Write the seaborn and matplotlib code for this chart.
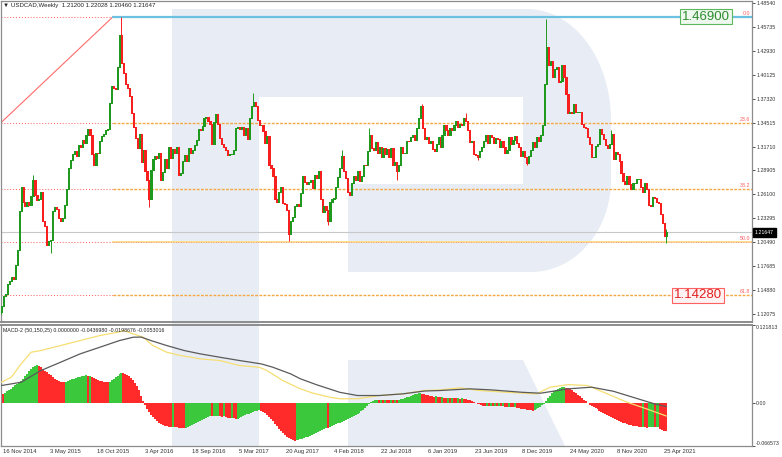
import numpy as np
import matplotlib
matplotlib.use("Agg")
import matplotlib.pyplot as plt
from matplotlib.patches import Polygon, Rectangle
import seaborn as sns

# USDCAD weekly closes, 16 Nov 2014 .. 9 May 2021
first_open = 1.1230
closes = [
    1.1310, 1.1420, 1.1440, 1.1560, 1.1600, 1.1640, 1.1620, 1.1780, 1.1960, 1.2420,
    1.2700, 1.2520, 1.2480, 1.2520, 1.2490, 1.2590, 1.2780, 1.2600, 1.2540, 1.2560,
    1.2640, 1.2300, 1.2240, 1.2020, 1.2060, 1.2080, 1.2420, 1.2460, 1.2440, 1.2330,
    1.2300, 1.2340, 1.2490, 1.2670, 1.2920, 1.3010, 1.3080, 1.3120, 1.3060, 1.3190,
    1.3170, 1.3250, 1.3210, 1.3300, 1.3380, 1.3310, 1.3080, 1.2960, 1.3100, 1.3090,
    1.3230, 1.3290, 1.3320, 1.3360, 1.3380, 1.3680, 1.3880, 1.3860, 1.3840, 1.4100,
    1.4480, 1.4150, 1.4030, 1.3900, 1.3850, 1.3760, 1.3560, 1.3400, 1.3270, 1.3150,
    1.3320, 1.2990, 1.3130, 1.2890, 1.2780, 1.2560, 1.2900, 1.3020, 1.3060, 1.3040,
    1.3100, 1.2780, 1.2870, 1.3030, 1.2920, 1.3170, 1.3040, 1.3140, 1.3100, 1.3160,
    1.2840, 1.2860, 1.3000, 1.3070, 1.3000, 1.3150, 1.3100, 1.3130, 1.3190, 1.3250,
    1.3380, 1.3370, 1.3410, 1.3500, 1.3520, 1.3470, 1.3440, 1.3200, 1.3460, 1.3550,
    1.3440, 1.3270, 1.3200, 1.3160, 1.3130, 1.3070, 1.3080, 1.3080, 1.3130, 1.3390,
    1.3400, 1.3380, 1.3400, 1.3300, 1.3390, 1.3260, 1.3500, 1.3640, 1.3690, 1.3650,
    1.3480, 1.3420, 1.3420, 1.3350, 1.3210, 1.3290, 1.2960, 1.2920, 1.2820, 1.2560,
    1.2520, 1.2640, 1.2700, 1.2510, 1.2500, 1.2430, 1.2150, 1.2300, 1.2350, 1.2480,
    1.2500, 1.2480, 1.2630, 1.2830, 1.2750, 1.2730, 1.2760, 1.2780, 1.2690, 1.2840,
    1.2800, 1.2890, 1.2560, 1.2410, 1.2470, 1.2430, 1.2300, 1.2520, 1.2560, 1.2570,
    1.2700, 1.2810, 1.2920, 1.3060, 1.2890, 1.2800, 1.2640, 1.2600, 1.2740, 1.2830,
    1.2780, 1.2880, 1.2770, 1.2820, 1.2960, 1.2950, 1.3120, 1.3310, 1.3150, 1.3130,
    1.3220, 1.3090, 1.3160, 1.3050, 1.3150, 1.3080, 1.3140, 1.3050, 1.3150, 1.2950,
    1.2990, 1.2880, 1.2950, 1.3160, 1.3100, 1.3100, 1.3240, 1.3230, 1.3280, 1.3300,
    1.3250, 1.3390, 1.3500, 1.3640, 1.3390, 1.3260, 1.3280, 1.3210, 1.3230, 1.3140,
    1.3120, 1.3200, 1.3280, 1.3170, 1.3310, 1.3420, 1.3370, 1.3300, 1.3390, 1.3370,
    1.3420, 1.3470, 1.3400, 1.3440, 1.3420, 1.3500, 1.3470, 1.3360, 1.3220, 1.3230,
    1.3080, 1.3070, 1.3050, 1.3120, 1.3160, 1.3230, 1.3300, 1.3210, 1.3300, 1.3280,
    1.3210, 1.3270, 1.3260, 1.3160, 1.3240, 1.3160, 1.3100, 1.3130, 1.3280, 1.3200,
    1.3250, 1.3290, 1.3210, 1.3160, 1.3060, 1.3120, 1.3050, 1.2980, 1.3060, 1.3130,
    1.3220, 1.3170, 1.3280, 1.3240, 1.3310, 1.3420, 1.3900, 1.4330, 1.4120, 1.4170,
    1.3980, 1.4080, 1.4100, 1.3930, 1.3940, 1.4130, 1.3980, 1.3790, 1.3560, 1.3580,
    1.3560, 1.3670, 1.3580, 1.3580, 1.3580, 1.3430, 1.3400, 1.3390, 1.3280, 1.3200,
    1.3050, 1.3050, 1.3180, 1.3200, 1.3380, 1.3320, 1.3260, 1.3190, 1.3150, 1.3200,
    1.3320, 1.3030, 1.3110, 1.3080, 1.3000, 1.2860, 1.2770, 1.2730, 1.2830, 1.2730,
    1.2670, 1.2740, 1.2740, 1.2790, 1.2790, 1.2700, 1.2640, 1.2740, 1.2670, 1.2490,
    1.2480, 1.2580, 1.2570, 1.2520, 1.2510, 1.2380, 1.2280, 1.2120, 1.21647,
]

# wicks that stand out (week index, price)
wick_highs = [(16, 1.2835), (61, 1.4690), (128, 1.3793), (173, 1.3125), (187, 1.3386),
              (214, 1.3665), (236, 1.3565), (277, 1.4667), (310, 1.3370), (338, 1.22028)]
wick_lows = [(0, 1.1210), (25, 1.1920), (75, 1.2460), (146, 1.2062), (166, 1.2250),
             (201, 1.2780), (242, 1.3015), (267, 1.2951), (338, 1.20460)]

# MACD-2 (50,150,25) histogram, one value per week
macd_hist = [
    0.0150, 0.0146, 0.0165, 0.0185, 0.0205, 0.0228, 0.0252, 0.0278, 0.0300, 0.0320,
    0.0350, 0.0385, 0.0420, 0.0455, 0.0500, 0.0535, 0.0565, 0.0580, 0.0588, 0.0580,
    0.0560, 0.0530, 0.0505, 0.0480, 0.0455, 0.0432, 0.0410, 0.0385, 0.0362, 0.0348,
    0.0338, 0.0330, 0.0326, 0.0330, 0.0342, 0.0356, 0.0370, 0.0385, 0.0398, 0.0408,
    0.0416, 0.0422, 0.0428, 0.0432, 0.0420, 0.0425, 0.0410, 0.0395, 0.0380, 0.0365,
    0.0352, 0.0342, 0.0336, 0.0332, 0.0330, 0.0338, 0.0355, 0.0378, 0.0405, 0.0430,
    0.0455, 0.0468, 0.0465, 0.0458, 0.0445, 0.0425, 0.0400, 0.0365, 0.0320, 0.0270,
    0.0200, 0.0120, 0.0040, -0.0030, -0.0085, -0.0135, -0.0180, -0.0215, -0.0245, -0.0275,
    -0.0300, -0.0320, -0.0338, -0.0350, -0.0360, -0.0366, -0.0370, -0.0368, -0.0372, -0.0376,
    -0.0380, -0.0382, -0.0383, -0.0384, -0.0378, -0.0365, -0.0350, -0.0335, -0.0320, -0.0305,
    -0.0290, -0.0275, -0.0260, -0.0245, -0.0230, -0.0215, -0.0200, -0.0205, -0.0198, -0.0194,
    -0.0192, -0.0200, -0.0210, -0.0205, -0.0215, -0.0225, -0.0232, -0.0228, -0.0236, -0.0242,
    -0.0238, -0.0228, -0.0215, -0.0200, -0.0188, -0.0175, -0.0162, -0.0148, -0.0134, -0.0122,
    -0.0115, -0.0112, -0.0120, -0.0135, -0.0155, -0.0180, -0.0210, -0.0245, -0.0280, -0.0320,
    -0.0360, -0.0395, -0.0430, -0.0465, -0.0495, -0.0522, -0.0545, -0.0562, -0.0575, -0.0582,
    -0.0576, -0.0570, -0.0562, -0.0553, -0.0543, -0.0532, -0.0520, -0.0507, -0.0493, -0.0478,
    -0.0462, -0.0446, -0.0430, -0.0415, -0.0400, -0.0385, -0.0390, -0.0375, -0.0360, -0.0345,
    -0.0330, -0.0315, -0.0300, -0.0285, -0.0270, -0.0255, -0.0240, -0.0228, -0.0215, -0.0200,
    -0.0185, -0.0170, -0.0150, -0.0125, -0.0098, -0.0068, -0.0036, -0.0005, 0.0025, 0.0040,
    0.0045, 0.0048, 0.0046, 0.0050, 0.0047, 0.0052, 0.0049, 0.0046, 0.0050, 0.0048,
    0.0052, 0.0050, 0.0055, 0.0060, 0.0068, 0.0078, 0.0090, 0.0102, 0.0115, 0.0127,
    0.0137, 0.0145, 0.0152, 0.0156, 0.0150, 0.0145, 0.0135, 0.0126, 0.0118, 0.0110,
    0.0102, 0.0105, 0.0096, 0.0090, 0.0093, 0.0087, 0.0082, 0.0085, 0.0080, 0.0083,
    0.0078, 0.0074, 0.0077, 0.0072, 0.0075, 0.0070, 0.0064, 0.0056, 0.0046, 0.0034,
    0.0020, 0.0006, -0.0008, -0.0018, -0.0028, -0.0036, -0.0040, -0.0038, -0.0042, -0.0039,
    -0.0045, -0.0042, -0.0048, -0.0045, -0.0050, -0.0047, -0.0053, -0.0058, -0.0055, -0.0061,
    -0.0066, -0.0063, -0.0070, -0.0076, -0.0082, -0.0088, -0.0095, -0.0102, -0.0108, -0.0112,
    -0.0114, -0.0105, -0.0090, -0.0072, -0.0052, -0.0030, -0.0008, 0.0030, 0.0080, 0.0120,
    0.0155, 0.0185, 0.0210, 0.0228, 0.0240, 0.0248, 0.0252, 0.0245, 0.0235, 0.0220,
    0.0200, 0.0178, 0.0155, 0.0130, 0.0105, 0.0080, 0.0055, 0.0032, 0.0008, -0.0025,
    -0.0045, -0.0062, -0.0078, -0.0092, -0.0115, -0.0135, -0.0155, -0.0172, -0.0190, -0.0205,
    -0.0220, -0.0235, -0.0250, -0.0265, -0.0280, -0.0295, -0.0305, -0.0315, -0.0324, -0.0332,
    -0.0340, -0.0347, -0.0353, -0.0359, -0.0364, -0.0369, -0.0366, -0.0372, -0.0380, -0.0377,
    -0.0374, -0.0371, -0.0376, -0.0372, -0.0369, -0.0405, -0.0418, -0.0428, -0.0437,
]

# MACD lines, read at a few weeks each
main_idx = [0, 5, 10, 15, 20, 30, 40, 50, 59, 62, 67, 72, 77, 84, 91, 101, 111, 121, 131, 135,
            143, 152, 158, 167, 172, 181, 192, 204, 215, 223, 233, 243, 257, 272, 279, 288,
            298, 308, 318, 328, 338]
main_val = [0.0327, 0.0405, 0.0613, 0.0794, 0.0820, 0.0898, 0.0976, 0.1054, 0.1105, 0.1132,
            0.1080, 0.1028, 0.0898, 0.0794, 0.0743, 0.0691, 0.0665, 0.0587, 0.0560, 0.0509,
            0.0353, 0.0224, 0.0160, 0.0093, 0.0070, 0.0070, 0.0120, 0.0146, 0.0198, 0.0208,
            0.0240, 0.0198, 0.0170, 0.0146, 0.0250, 0.0290, 0.0276, 0.0146, 0.0016, -0.0088,
            -0.0199]
signal_idx = [0, 10, 20, 30, 40, 50, 60, 67, 71, 76, 84, 93, 101, 111, 121, 132, 138, 147,
              152, 160, 172, 181, 192, 204, 215, 223, 238, 249, 265, 274, 288, 300, 311, 321,
              332, 338]
signal_val = [0.0276, 0.0327, 0.0509, 0.0638, 0.0769, 0.0872, 0.0976, 0.1028, 0.1030, 0.0976,
              0.0898, 0.0820, 0.0769, 0.0716, 0.0665, 0.0613, 0.0560, 0.0457, 0.0380, 0.0290,
              0.0170, 0.0120, 0.0120, 0.0146, 0.0190, 0.0198, 0.0224, 0.0208, 0.0170, 0.0156,
              0.0224, 0.0250, 0.0187, 0.0093, -0.0010, -0.0053]

price_ticks = [1.48540, 1.45735, 1.42930, 1.40125, 1.37320, 1.34515, 1.31710,
               1.28905, 1.26100, 1.23295, 1.20490, 1.17685, 1.14880, 1.12075]
macd_ticks = [0.121813, 0.0, -0.066573]
macd_tick_labels = ["0.121813", "0.00", "-0.066573"]

date_idx = [0, 24, 48, 72, 96, 120, 144, 168, 192, 216, 240, 264, 288, 312, 336]
date_labels = ["16 Nov 2014", "3 May 2015", "18 Oct 2015", "3 Apr 2016", "18 Sep 2016",
               "5 Mar 2017", "20 Aug 2017", "4 Feb 2018", "22 Jul 2018", "6 Jan 2019",
               "23 Jun 2019", "8 Dec 2019", "24 May 2020", "8 Nov 2020", "25 Apr 2021"]

fib_names = ["0.0", "23.6", "38.2", "50.0", "61.8"]
fib_prices = [1.4690, 1.3444, 1.2674, 1.2051, 1.1428]

# --- figure -------------------------------------------------------------
sns.set_style("white")
plt.rcParams['font.family'] = ['Liberation Sans', 'DejaVu Sans']

W, H = 782, 457
fig = plt.figure(figsize=(W / 100, H / 100), dpi=100)
fig.patch.set_facecolor('white')


def px_rect(x0, y0, x1, y1):
    return [x0 / W, 1 - y1 / H, (x1 - x0) / W, (y1 - y0) / H]


# watermark logo behind both panels (pixel space)
bg = fig.add_axes([0, 0, 1, 1], zorder=-5)
bg.set_xlim(0, W)
bg.set_ylim(H, 0)
bg.axis('off')
wm = '#e8edf5'
bg.add_patch(Rectangle((172, 9), 87, 437, color=wm, lw=0))
t1 = np.linspace(-np.pi / 2, 0, 30)
t2 = np.linspace(0, np.pi / 2, 30)
bowl = [(259, 9), (527, 9)]
bowl += list(zip(527 + 84 * np.cos(t1), 120 + 111 * np.sin(t1)))
bowl += list(zip(531 + 80 * np.cos(t2), 180 + 92 * np.sin(t2)))
bowl += [(348, 272), (348, 184), (523, 184), (523, 97), (259, 97)]
bg.add_patch(Polygon(bowl, closed=True, color=wm, lw=0))
bg.add_patch(Polygon([(348, 360), (523, 360), (565, 446), (348, 446)], closed=True, color=wm, lw=0))

ax = fig.add_axes(px_rect(1, 1, 752, 322))
ax2 = fig.add_axes(px_rect(1, 325, 752, 446))
xl0, xl1 = -0.25, -0.25 + 751 / 1.967
for a in (ax, ax2):
    a.set_facecolor('none')
    a.set_xlim(xl0, xl1)
    for s in a.spines.values():
        s.set_color('#8c8c8c')
        s.set_linewidth(0.9)
ax.spines['bottom'].set_linewidth(1.4)
ax2.spines['top'].set_linewidth(1.4)

# --- price panel --------------------------------------------------------
ax.set_ylim(1.1117, 1.4874)
c = np.array(closes)
o = np.array([first_open] + closes[:-1])
x = np.arange(len(c))
green, red = '#1f9a1f', '#f81f1f'
cols = [green if cc >= oo else red for cc, oo in zip(c, o)]
ax.bar(x, np.abs(c - o), bottom=np.minimum(o, c), width=0.62, color=cols,
       edgecolor=cols, linewidth=0.4, zorder=4, antialiased=False)
for i, v in wick_highs:
    ax.vlines(i, max(o[i], c[i]), v, color=cols[i], lw=0.7, zorder=4)
for i, v in wick_lows:
    ax.vlines(i, v, min(o[i], c[i]), color=cols[i], lw=0.7, zorder=4)

split = 56.7
ax.plot([xl0, split], [1.3450, fib_prices[0]], color='#ff6b6b', lw=0.8, zorder=2)
for name, p in zip(fib_names, fib_prices):
    ax.plot([xl0, split], [p, p], color='#ff5a5a', lw=0.7, ls=(0, (1, 2)), zorder=2)
    if name == "0.0":
        ax.plot([split, xl1], [p, p], color='#6cc0e0', lw=1.6, zorder=2)
    elif name == "50.0":
        ax.plot([split, xl1], [p, p], color='#fbe08c', lw=1.4, zorder=2)
        ax.plot([split, xl1], [p, p], color='#f07a9a', lw=0.6, ls=(0, (1, 2)), zorder=2)
    else:
        ax.plot([split, xl1], [p, p], color='#f5a742', lw=1.0, ls=(0, (2, 1)), zorder=2)
    ax.annotate(name, xy=(1, p), xycoords=('axes fraction', 'data'), xytext=(-2, 1),
                textcoords='offset pixels', ha='right', va='bottom', fontsize=3.8,
                color='#ff5a5a')

ax.axhline(closes[-1], color='#c8c8c8', lw=0.8, zorder=1)

ax.text((706 - 1) / 751, fib_prices[0], "1.46900", transform=ax.get_yaxis_transform(),
        ha='center', va='center', fontsize=9.5, color='#2e8b2e', zorder=6,
        bbox=dict(boxstyle='square,pad=0.12', fc='#eef8ee', ec='#5cb85c', lw=0.8))
ax.text((698 - 1) / 751, fib_prices[4], "1.14280", transform=ax.get_yaxis_transform(),
        ha='center', va='center', fontsize=9.5, color='#e02020', zorder=6,
        bbox=dict(boxstyle='square,pad=0.12', fc='#fff2f2', ec='#ff6060', lw=0.8))

ax.yaxis.tick_right()
ax.set_yticks(price_ticks)
ax.set_yticklabels([f"{v:.5f}" for v in price_ticks])
ax.tick_params(axis='y', length=2, width=0.6, pad=1, labelsize=3.8, colors='#333333')
ax.set_xticks([])
ax.annotate(f"{closes[-1]:.5f}", xy=(1, closes[-1]), xycoords=('axes fraction', 'data'),
            xytext=(3, 0), textcoords='offset pixels', ha='left', va='center',
            fontsize=3.8, color='white', annotation_clip=False, zorder=7,
            bbox=dict(boxstyle='square,pad=0.35', fc='black', ec='black'))

fig.text(3 / W, 1 - 6 / H, "\u25bc USDCAD,Weekly  1.21200 1.22028 1.20460 1.21647",
         fontsize=4.4, va='center', ha='left', color='#222222')

# --- MACD panel ---------------------------------------------------------
ax2.set_ylim(-0.066573, 0.121813)
h = np.array(macd_hist)
xh = np.arange(len(h))
hgreen, hred = '#3cc83c', '#ff2b2b'
hcols = [hred] + [hgreen if h[i] > h[i - 1] else hred for i in range(1, len(h))]
ax2.bar(xh, h, width=1.0, color=hcols, edgecolor='none', linewidth=0, zorder=2,
        antialiased=False)
sns.lineplot(x=main_idx, y=main_val, ax=ax2, color='#f6de72', linewidth=0.9, zorder=3)
sns.lineplot(x=signal_idx, y=signal_val, ax=ax2, color='#5a5a5a', linewidth=0.9, zorder=3)
ax2.set_xlim(xl0, xl1)
ax2.set_ylim(-0.066573, 0.121813)
ax2.set_xlabel('')
ax2.set_ylabel('')

ax2.yaxis.tick_right()
ax2.set_yticks(macd_ticks)
ax2.set_yticklabels(macd_tick_labels)
ax2.tick_params(axis='y', length=2, width=0.6, pad=1, labelsize=3.8, colors='#333333')
tl = ax2.get_yticklabels()
tl[0].set_va('top')
tl[-1].set_va('bottom')

ax2.set_xticks(date_idx)
ax2.set_xticklabels([''] * len(date_idx))
ax2.tick_params(axis='x', length=2, width=0.6, direction='out', colors='#333333')
for i, lab in zip(date_idx, date_labels):
    ax2.text(i + 0.8, -0.045, lab, transform=ax2.get_xaxis_transform(), ha='left',
             va='center', fontsize=4.2, color='#333333', clip_on=False)

fig.text(3.3 / W, 1 - 330.5 / H,
         "MACD-2 (50,150,25) 0.0000000 -0.0436980 -0.0198676 -0.0053016",
         fontsize=3.8, va='center', ha='left', color='#222222')

fig.savefig('out.png', dpi=100)
